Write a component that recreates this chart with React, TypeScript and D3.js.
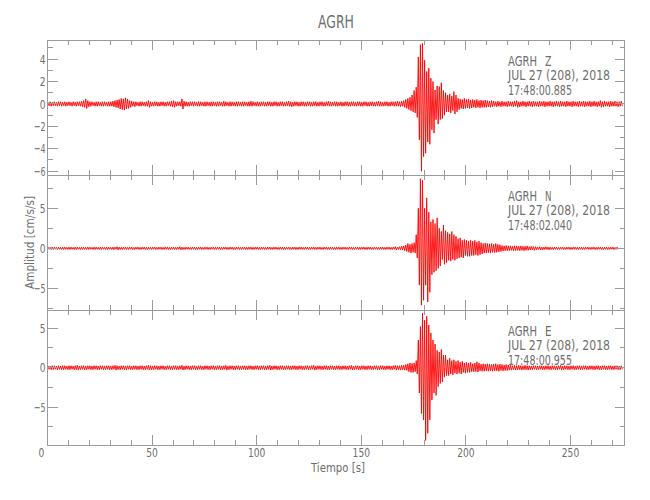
import React from 'react';
import * as d3 from 'd3';

const TITLE = 'AGRH';
const STATION = 'AGRH';
const components = ['Z', 'N', 'E'];
const dates = ['JUL 27 (208), 2018', 'JUL 27 (208), 2018', 'JUL 27 (208), 2018'];
const times = ['17:48:00.885', '17:48:02.040', '17:48:00.955'];
const xLabel = 'Tiempo [s]';
const yLabel = 'Amplitud [cm/s/s]';

const xMajorTicks = [0, 50, 100, 150, 200, 250];
const xMinorTicks = [10, 20, 30, 40, 60, 70, 80, 90, 110, 120, 130, 140, 160, 170, 180, 190, 210, 220, 230, 240, 260, 270];
const xDomain = [0, 275.8];

const zDomain = [-6.34, 5.71];
const zMajor = [-6, -4, -2, 0, 2, 4];
const zMinor = [-5, -3, -1, 1, 3, 5];
const nDomain = [-7.71, 9.16];
const nMajor = [-5, 0, 5];
const nMinor = [-7.5, -2.5, 2.5, 7.5];
const eDomain = [-9.78, 7.3];
const eMajor = [-5, 0, 5];
const eMinor = [-7.5, -2.5, 2.5];

// per-second envelope (max / min)
const zMax = [
  .15,.2,.15,.2,.15,.2,.2,.15,.2,.15,
  .2,.15,.2,.15,.2,.2,.25,.3,.45,.3,
  .2,.2,.15,.2,.2,.15,.2,.2,.15,.2,
  .2,.25,.3,.35,.4,.5,.45,.55,.45,.3,
  .25,.2,.2,.15,.2,.2,.15,.2,.3,.2,
  .15,.2,.2,.15,.2,.2,.15,.2,.2,.25,
  .3,.2,.2,.2,.45,.25,.2,.15,.2,.2,
  .2,.15,.2,.2,.15,.2,.2,.15,.2,.2,
  .15,.2,.2,.15,.25,.2,.15,.2,.2,.15,
  .2,.2,.15,.2,.2,.15,.2,.25,.2,.15,
  .2,.15,.2,.2,.15,.2,.2,.15,.2,.2,
  .15,.2,.2,.15,.2,.25,.2,.15,.2,.2,
  .15,.2,.2,.15,.2,.2,.15,.2,.2,.15,
  .2,.2,.15,.2,.25,.2,.15,.2,.2,.15,
  .2,.15,.2,.2,.15,.2,.2,.15,.2,.2,
  .15,.2,.2,.15,.2,.2,.15,.2,.25,.2,
  .15,.2,.2,.15,.2,.2,.2,.25,.2,.25,
  .3,.4,.5,.6,.8,1.2,1.5,4.2,5.3,5.4,
  3.9,2.9,3.2,2.3,2,1.25,1.6,1.55,1.9,1.2,
  1,.8,.9,.7,1.1,.8,.5,.45,.4,.5,
  .4,.45,.35,.4,.35,.4,.3,.35,.3,.35,
  .3,.25,.3,.25,.2,.25,.2,.25,.2,.2,
  .25,.2,.2,.25,.3,.2,.2,.25,.2,.2,
  .25,.2,.25,.2,.2,.25,.2,.25,.2,.2,
  .25,.2,.2,.25,.2,.25,.2,.2,.25,.2,
  .2,.25,.2,.2,.25,.2,.25,.2,.2,.25,
  .2,.25,.2,.2,.3,.2,.25,.2,.2,.25,
  .2,.25,.2,.2,.25,
];
const zMin = [
  -.15,-.2,-.15,-.15,-.2,-.15,-.2,-.15,-.2,-.15,
  -.15,-.2,-.15,-.2,-.15,-.2,-.25,-.3,-.4,-.25,
  -.2,-.15,-.2,-.2,-.15,-.2,-.2,-.15,-.2,-.2,
  -.2,-.25,-.3,-.35,-.45,-.5,-.55,-.45,-.4,-.3,
  -.2,-.25,-.15,-.2,-.2,-.15,-.2,-.2,-.3,-.2,
  -.2,-.15,-.2,-.2,-.15,-.2,-.2,-.15,-.2,-.25,
  -.3,-.2,-.15,-.2,-.45,-.2,-.2,-.2,-.15,-.2,
  -.15,-.2,-.2,-.15,-.2,-.2,-.15,-.2,-.2,-.15,
  -.2,-.2,-.15,-.2,-.2,-.15,-.2,-.2,-.15,-.2,
  -.2,-.15,-.2,-.2,-.15,-.2,-.2,-.2,-.15,-.2,
  -.2,-.2,-.15,-.2,-.2,-.15,-.2,-.2,-.15,-.2,
  -.2,-.15,-.2,-.2,-.15,-.2,-.25,-.2,-.15,-.2,
  -.2,-.15,-.2,-.2,-.15,-.2,-.2,-.15,-.2,-.2,
  -.15,-.2,-.2,-.15,-.2,-.2,-.15,-.2,-.2,-.15,
  -.2,-.2,-.15,-.2,-.2,-.15,-.2,-.2,-.15,-.2,
  -.2,-.15,-.2,-.2,-.15,-.2,-.2,-.15,-.2,-.2,
  -.2,-.15,-.2,-.2,-.15,-.2,-.2,-.2,-.25,-.2,
  -.3,-.4,-.5,-.6,-.7,-.8,-1.2,-3.2,-6,-4.7,
  -4.4,-3.4,-3.6,-2.3,-2.6,-1.4,-1.8,-1.4,-1.3,-1,
  -.7,-.7,-.8,-.6,-.9,-.7,-.5,-.4,-.45,-.4,
  -.35,-.4,-.35,-.3,-.35,-.3,-.35,-.3,-.3,-.3,
  -.25,-.3,-.25,-.2,-.25,-.2,-.25,-.2,-.2,-.25,
  -.2,-.2,-.25,-.2,-.3,-.25,-.2,-.2,-.25,-.2,
  -.2,-.25,-.2,-.2,-.25,-.2,-.2,-.25,-.2,-.2,
  -.2,-.25,-.2,-.2,-.25,-.2,-.2,-.25,-.2,-.2,
  -.25,-.2,-.2,-.25,-.2,-.2,-.25,-.2,-.2,-.25,
  -.2,-.2,-.25,-.2,-.3,-.25,-.2,-.2,-.25,-.2,
  -.2,-.2,-.25,-.2,-.2,
];

const nMax = [
  .15,.12,.15,.15,.12,.15,.12,.15,.15,.12,
  .15,.15,.12,.15,.15,.12,.15,.15,.12,.15,
  .15,.12,.15,.15,.12,.15,.15,.12,.15,.15,
  .12,.15,.15,.2,.15,.12,.15,.15,.12,.15,
  .15,.12,.15,.15,.12,.15,.15,.12,.15,.12,
  .15,.15,.12,.15,.15,.12,.15,.15,.12,.15,
  .15,.12,.15,.2,.15,.12,.15,.15,.12,.15,
  .15,.12,.15,.15,.12,.15,.15,.12,.15,.15,
  .12,.15,.15,.12,.15,.15,.12,.15,.15,.12,
  .15,.15,.12,.15,.15,.12,.15,.15,.12,.15,
  .15,.12,.15,.15,.12,.15,.15,.12,.15,.15,
  .12,.15,.15,.12,.15,.15,.12,.15,.15,.12,
  .15,.15,.12,.15,.15,.12,.15,.15,.12,.15,
  .15,.12,.15,.15,.12,.15,.15,.12,.15,.15,
  .12,.15,.15,.12,.15,.15,.12,.15,.15,.12,
  .15,.15,.12,.15,.15,.12,.15,.15,.12,.15,
  .15,.12,.15,.15,.12,.15,.2,.15,.2,.25,
  .3,.4,.6,.5,.6,.7,1.7,5,8.7,8.5,
  5,6.3,4.5,3.3,3.6,3.1,3.8,2.5,2.1,2.9,
  2.2,2,1.8,2.1,1.7,1.5,1.2,1.3,1,1.1,
  1,.9,1,.9,1,.8,.9,.7,.6,.65,
  .6,.55,.6,.5,.6,.5,.45,.35,.3,.35,
  .3,.3,.25,.3,.3,.25,.3,.25,.25,.3,
  .2,.25,.2,.2,.15,.2,.15,.15,.2,.15,
  .15,.12,.15,.15,.12,.15,.15,.12,.15,.15,
  .12,.15,.15,.12,.15,.15,.12,.15,.15,.12,
  .15,.15,.12,.15,.15,.12,.15,.15,.12,.15,
  .15,.12,.15,
];
const nMin = [
  -.12,-.15,-.15,-.12,-.15,-.12,-.15,-.15,-.12,-.15,
  -.15,-.12,-.15,-.15,-.12,-.15,-.15,-.12,-.15,-.15,
  -.12,-.15,-.15,-.12,-.15,-.15,-.12,-.15,-.15,-.12,
  -.15,-.15,-.12,-.2,-.15,-.15,-.12,-.15,-.15,-.12,
  -.15,-.15,-.12,-.15,-.15,-.12,-.15,-.15,-.12,-.15,
  -.12,-.15,-.15,-.12,-.15,-.15,-.12,-.15,-.15,-.12,
  -.15,-.15,-.12,-.2,-.15,-.15,-.12,-.15,-.15,-.12,
  -.15,-.15,-.12,-.15,-.15,-.12,-.15,-.15,-.12,-.15,
  -.15,-.12,-.15,-.15,-.12,-.15,-.15,-.12,-.15,-.15,
  -.12,-.15,-.15,-.12,-.15,-.15,-.12,-.15,-.15,-.12,
  -.15,-.15,-.12,-.15,-.15,-.12,-.15,-.15,-.12,-.15,
  -.15,-.12,-.15,-.15,-.12,-.15,-.15,-.12,-.15,-.15,
  -.12,-.15,-.15,-.12,-.15,-.15,-.12,-.15,-.15,-.12,
  -.15,-.15,-.12,-.15,-.15,-.12,-.15,-.15,-.12,-.15,
  -.15,-.12,-.15,-.15,-.12,-.15,-.15,-.12,-.15,-.15,
  -.12,-.15,-.15,-.12,-.15,-.15,-.12,-.15,-.15,-.12,
  -.15,-.15,-.12,-.15,-.15,-.12,-.2,-.15,-.2,-.2,
  -.3,-.4,-.5,-.6,-.5,-.6,-1.2,-4.6,-7.1,-6.5,
  -4.6,-6.7,-5.5,-3.3,-3,-2.8,-2.5,-2.2,-1.4,-2,
  -1.8,-1.5,-1.6,-1.4,-1.5,-1.3,-1.2,-1.1,-1.2,-.9,
  -1,-1,-.9,-.9,-.8,-.9,-.8,-.7,-.6,-.6,
  -.55,-.6,-.5,-.55,-.5,-.45,-.4,-.35,-.3,-.3,
  -.3,-.25,-.3,-.3,-.25,-.3,-.25,-.3,-.25,-.25,
  -.2,-.2,-.25,-.2,-.15,-.2,-.2,-.15,-.15,-.2,
  -.15,-.15,-.12,-.15,-.15,-.12,-.15,-.15,-.12,-.15,
  -.15,-.12,-.15,-.15,-.12,-.15,-.15,-.12,-.15,-.15,
  -.12,-.15,-.15,-.12,-.15,-.15,-.12,-.15,-.15,-.12,
  -.15,-.15,-.12,
];

const eMax = [
  .25,.2,.25,.25,.2,.25,.2,.25,.25,.2,
  .25,.25,.2,.25,.3,.2,.25,.25,.2,.25,
  .25,.2,.25,.25,.2,.25,.25,.2,.25,.25,
  .2,.25,.3,.25,.2,.25,.25,.2,.25,.25,
  .2,.25,.25,.2,.25,.25,.2,.25,.3,.25,
  .2,.25,.25,.2,.25,.25,.2,.25,.25,.2,
  .25,.25,.2,.25,.3,.2,.25,.25,.2,.25,
  .25,.2,.25,.25,.2,.25,.25,.2,.25,.25,
  .2,.25,.25,.2,.25,.3,.2,.25,.25,.2,
  .25,.25,.2,.25,.25,.2,.25,.25,.2,.25,
  .25,.2,.25,.25,.2,.25,.3,.2,.25,.25,
  .2,.25,.25,.2,.25,.25,.2,.25,.25,.2,
  .25,.25,.2,.25,.25,.2,.25,.3,.2,.25,
  .25,.2,.25,.25,.2,.25,.25,.2,.25,.25,
  .2,.25,.25,.2,.25,.3,.2,.25,.25,.2,
  .25,.25,.2,.25,.25,.2,.25,.25,.2,.25,
  .25,.2,.25,.25,.2,.25,.3,.25,.25,.3,
  .3,.4,.5,.6,.55,.6,.9,3.5,5.2,6.9,
  6,6.5,5.4,4.4,3.5,3,2.2,2,2.3,1.6,
  1.6,1,1.2,.9,1,.8,.9,.7,.8,.6,
  .7,.6,.7,.5,.6,.75,.6,.45,.5,.45,
  .5,.45,.4,.45,.5,.4,.45,.4,.35,.4,
  .35,.3,.25,.3,.25,.3,.25,.25,.3,.25,
  .25,.2,.25,.25,.2,.25,.25,.2,.25,.25,
  .2,.25,.25,.2,.25,.3,.2,.25,.25,.2,
  .25,.25,.2,.25,.25,.2,.25,.25,.2,.25,
  .25,.2,.25,.25,.2,.25,.25,.2,.25,.25,
  .2,.25,.25,.2,.25,
];
const eMin = [
  -.2,-.25,-.25,-.2,-.25,-.2,-.25,-.25,-.2,-.25,
  -.25,-.2,-.25,-.25,-.3,-.25,-.2,-.25,-.25,-.2,
  -.25,-.25,-.2,-.25,-.25,-.2,-.25,-.25,-.2,-.25,
  -.25,-.2,-.3,-.25,-.25,-.2,-.25,-.25,-.2,-.25,
  -.25,-.2,-.25,-.25,-.2,-.25,-.25,-.2,-.3,-.25,
  -.25,-.2,-.25,-.25,-.2,-.25,-.25,-.2,-.25,-.25,
  -.2,-.25,-.25,-.2,-.3,-.25,-.2,-.25,-.25,-.2,
  -.25,-.25,-.2,-.25,-.25,-.2,-.25,-.25,-.2,-.25,
  -.25,-.2,-.25,-.25,-.2,-.3,-.25,-.2,-.25,-.25,
  -.2,-.25,-.25,-.2,-.25,-.25,-.2,-.25,-.25,-.2,
  -.25,-.25,-.2,-.25,-.25,-.2,-.3,-.25,-.2,-.25,
  -.25,-.2,-.25,-.25,-.2,-.25,-.25,-.2,-.25,-.25,
  -.2,-.25,-.25,-.2,-.25,-.25,-.2,-.3,-.25,-.2,
  -.25,-.25,-.2,-.25,-.25,-.2,-.25,-.25,-.2,-.25,
  -.25,-.2,-.25,-.25,-.2,-.3,-.25,-.2,-.25,-.25,
  -.2,-.25,-.25,-.2,-.25,-.25,-.2,-.25,-.25,-.2,
  -.25,-.25,-.2,-.25,-.25,-.2,-.3,-.25,-.3,-.25,
  -.3,-.35,-.5,-.6,-.6,-.5,-.8,-3.2,-5.8,-6.6,
  -9.2,-8.3,-6.6,-4.1,-3.2,-3.5,-2.4,-2,-1.8,-1.2,
  -1,-1,-.8,-.9,-.7,-.8,-.7,-.8,-.6,-.7,
  -.6,-.6,-.5,-.5,-.5,-.55,-.4,-.45,-.45,-.4,
  -.45,-.4,-.45,-.4,-.4,-.45,-.35,-.4,-.35,-.35,
  -.3,-.3,-.25,-.3,-.25,-.25,-.3,-.25,-.25,-.3,
  -.25,-.25,-.2,-.25,-.25,-.2,-.25,-.25,-.2,-.25,
  -.25,-.2,-.25,-.25,-.2,-.3,-.25,-.2,-.25,-.25,
  -.2,-.25,-.25,-.2,-.25,-.25,-.2,-.25,-.25,-.2,
  -.25,-.25,-.2,-.25,-.25,-.2,-.25,-.25,-.2,-.25,
  -.25,-.2,-.25,-.25,-.2,
];

const FONT = "'DejaVu Sans Condensed', 'DejaVu Sans', sans-serif";
const AXIS = '#9a9a9a';
const TEXT = '#6e6e6e';
const TRACE = '#ff0000';
const CHAR_W = 5.8;

const fmt = (v: number) => (v < 0 ? '\u2212' + Math.abs(v) : String(v));

export default function App() {
  const W = 650;
  const H = 500;
  const left = 47.5;
  const right = 624.5;
  const firstTop = 40;
  const ph = 135;
  const x = d3.scaleLinear().domain(xDomain).range([left, right]);

  const panels = [
    { comp: components[0], date: dates[0], time: times[0], max: zMax, min: zMin, domain: zDomain, major: zMajor, minor: zMinor },
    { comp: components[1], date: dates[1], time: times[1], max: nMax, min: nMin, domain: nDomain, major: nMajor, minor: nMinor },
    { comp: components[2], date: dates[2], time: times[2], max: eMax, min: eMin, domain: eDomain, major: eMajor, minor: eMinor },
  ];

  const bottom = firstTop + ph * panels.length;

  return (
    <svg width={W} height={H} style={{ position: 'absolute', left: 0, top: 0, background: '#fff' }} fontFamily={FONT}>
      <rect x={0} y={0} width={W} height={H} fill="#fff" />
      <text x={(left + right) / 2} y={28} textAnchor="middle" fontSize={17} fill={TEXT} textLength={36} lengthAdjust="spacingAndGlyphs">{TITLE}</text>
      {panels.map((p, pi) => {
        const top = firstTop + pi * ph;
        const bot = top + ph;
        const y = d3.scaleLinear().domain(p.domain).range([bot, top]);
        const pts: [number, number][] = [];
        p.max.forEach((v, i) => {
          pts.push([i + 0.25, v]);
          pts.push([i + 0.75, p.min[i]]);
        });
        const line = d3.line<[number, number]>().x(d => x(d[0])).y(d => y(d[1]));
        const yTicks = [...p.major.map(v => ({ v, len: 10 })), ...p.minor.map(v => ({ v, len: 5 }))]
          .filter(t => t.v >= p.domain[0] && t.v <= p.domain[1]);
        const xTicks = [...xMajorTicks.map(v => ({ v, len: 10 })), ...xMinorTicks.map(v => ({ v, len: 5 }))];
        return (
          <g key={pi}>
            <path d={line(pts) || ''} fill="none" stroke={TRACE} strokeWidth={0.9} />
            <g stroke={AXIS} strokeWidth={1} shapeRendering="crispEdges">
              <rect x={left} y={top} width={right - left} height={ph} fill="none" />
              {xTicks.map((t, i) => (
                <g key={'x' + i}>
                  <line x1={x(t.v)} x2={x(t.v)} y1={top} y2={top + t.len} />
                  <line x1={x(t.v)} x2={x(t.v)} y1={bot} y2={bot - t.len} />
                </g>
              ))}
              {yTicks.map((t, i) => (
                <g key={'y' + i}>
                  <line x1={left} x2={left + t.len} y1={y(t.v)} y2={y(t.v)} />
                  <line x1={right} x2={right - t.len} y1={y(t.v)} y2={y(t.v)} />
                </g>
              ))}
            </g>
            {p.major.map(v => (
              <text key={'yl' + v} x={45.5} y={y(v)} dy="0.36em" textAnchor="end" fontSize={13} fill={TEXT}
                textLength={fmt(v).length * CHAR_W} lengthAdjust="spacingAndGlyphs">{fmt(v)}</text>
            ))}
            <g fontSize={13.5} fill={TEXT}>
              <text x={508} y={top + 25.5} textLength={29} lengthAdjust="spacingAndGlyphs">{STATION}</text>
              <text x={545} y={top + 25.5} textLength={6.5} lengthAdjust="spacingAndGlyphs">{p.comp}</text>
              <text x={508} y={top + 40} textLength={102} lengthAdjust="spacingAndGlyphs">{p.date}</text>
              <text x={508} y={top + 54.5} textLength={64} lengthAdjust="spacingAndGlyphs">{p.time}</text>
            </g>
          </g>
        );
      })}
      {xMajorTicks.map(v => (
        <text key={'xl' + v} x={x(v)} dx={v === 0 ? -6 : 0} y={457} textAnchor="middle" fontSize={13} fill={TEXT}
          textLength={fmt(v).length * CHAR_W} lengthAdjust="spacingAndGlyphs">{fmt(v)}</text>
      ))}
      <text x={338} y={472} textAnchor="middle" fontSize={13} fill={TEXT} textLength={54} lengthAdjust="spacingAndGlyphs">{xLabel}</text>
      <text transform={`translate(34, ${(firstTop + bottom) / 2}) rotate(-90)`} textAnchor="middle" fontSize={13} fill={TEXT}
        textLength={93} lengthAdjust="spacingAndGlyphs">{yLabel}</text>
    </svg>
  );
}
